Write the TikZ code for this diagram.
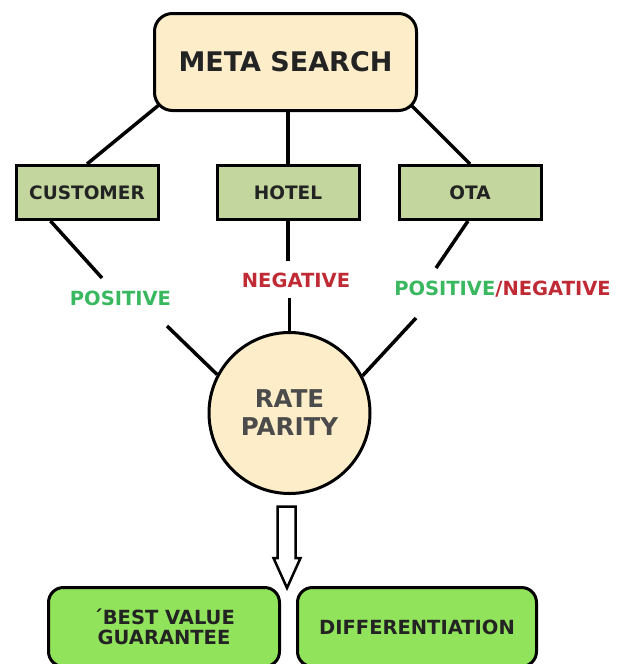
\documentclass[tikz,border=0pt]{standalone}
\usepackage{fontspec}
\setmainfont{DejaVu Sans}
\usetikzlibrary{calc,backgrounds}
\definecolor{cream}{RGB}{253,238,201}
\definecolor{sage}{RGB}{195,214,157}
\definecolor{lime}{RGB}{145,227,92}
\definecolor{posgreen}{RGB}{58,184,96}
\definecolor{negred}{RGB}{192,42,52}
\definecolor{darktext}{RGB}{35,35,35}
\definecolor{graytext}{RGB}{75,75,75}
\tikzset{
  metabox/.style={draw=black, line width=3pt, fill=cream, rounded corners=18pt,
    minimum width=262pt, minimum height=97pt, inner sep=0pt,
    font=\fontsize{27}{29}\selectfont\bfseries, text=darktext},
  actor/.style={draw=black, line width=3pt, fill=sage,
    minimum width=142pt, minimum height=54pt, inner sep=0pt,
    font=\fontsize{18.5}{20}\selectfont\bfseries, text=darktext},
  ratecircle/.style={circle, draw=black, line width=3pt, fill=cream,
    minimum size=161pt, inner sep=0pt, align=center,
    font=\fontsize{24.5}{28}\selectfont\bfseries, text=graytext},
  result/.style={draw=black, line width=3pt, fill=lime, rounded corners=15pt,
    minimum height=79pt, inner sep=0pt, align=center,
    font=\fontsize{19.5}{20}\selectfont\bfseries, text=darktext},
  lbl/.style={inner sep=0pt, font=\fontsize{19.5}{21}\selectfont\bfseries},
  conn/.style={draw=black, line width=3.5pt},
  hollowarrow/.style={draw=black, line width=2.5pt, fill=white, line join=miter}
}
\begin{document}
\begin{tikzpicture}[x=1pt,y=-1pt]
\useasboundingbox (0,0) rectangle (616,664);
\clip (0,0) rectangle (616,664);

\node[metabox] (meta) at (285.5,62) {META SEARCH};
\node[actor] (cust) at (87,192.5) {CUSTOMER};
\node[actor] (hotel) at (288,192.5) {HOTEL};
\node[actor] (ota) at (470,192.5) {OTA};
\node[ratecircle] (rate) at (289.5,413) {RATE\\PARITY};

\node[lbl, text=posgreen] (pos) at (120.5,298) {POSITIVE};
\node[lbl, text=negred] (neg) at (296,280) {NEGATIVE};
\node[lbl] (posneg) at (502.5,289) {\textcolor{posgreen}{POSITIVE}\textcolor{negred}{/NEGATIVE}};

\coordinate (p1) at (102,278);
\coordinate (p2) at (167,326);
\coordinate (n1) at (288,261);
\coordinate (n2) at (289.5,298);
\coordinate (o1) at (436,268);
\coordinate (o2) at (416,318);

\begin{pgfonlayer}{background}
  \draw[conn] ([xshift=12pt,yshift=12pt]meta.south west) -- (cust.north);
  \draw[conn] (hotel.north) -- (hotel.north |- meta.south);
  \draw[conn] ([xshift=-12pt,yshift=12pt]meta.south east) -- (ota.north);
\end{pgfonlayer}

\draw[conn] ([xshift=36pt]cust.south west) -- (p1);
\draw[conn] (p2) -- (rate.152);
\draw[conn] (hotel.south) -- (n1);
\draw[conn] (n2) -- (rate.north);
\draw[conn] ([xshift=-2pt]ota.south) -- (o1);
\draw[conn] (o2) -- (rate.27);

\draw[hollowarrow] (277.5,506.5) -- (295.5,506.5) -- (295.5,558) -- (300.5,558)
  -- (287,588) -- (273.5,558) -- (277.5,558) -- cycle;

\node[result, minimum width=231pt] (bvg) at (164,627) {\textasciiacute BEST VALUE\\GUARANTEE};
\node[result, minimum width=239pt] (diff) at (417,627) {DIFFERENTIATION};
\end{tikzpicture}
\end{document}
